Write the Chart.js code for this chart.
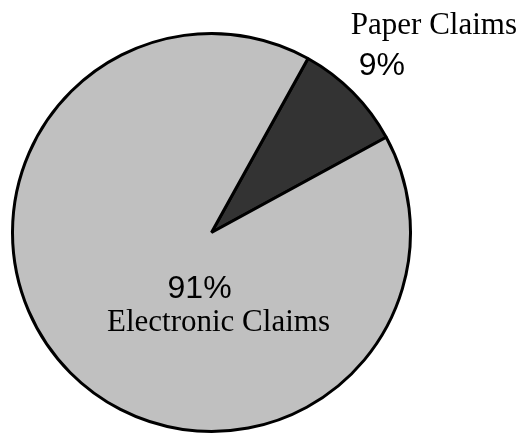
<!DOCTYPE html>
<html>
<head>
<meta charset="utf-8">
<script src="https://cdn.jsdelivr.net/npm/chart.js@4"></script>
<style>
  html, body { margin: 0; padding: 0; background: #fff; }
  #wrap { width: 528px; height: 434px; position: relative; }
</style>
</head>
<body>
<div id="wrap"><canvas id="claimsPie"></canvas></div>
<script>
  // Données du graphique
  var categories = ['Paper Claims', 'Electronic Claims'];
  var shares = [9, 91];
  var sliceColors = ['#333333', '#c0c0c0'];

  // Étiquettes dessinées à côté des parts
  var labelPlugin = {
    id: 'sliceLabels',
    afterDraw: function (chart) {
      var ctx = chart.ctx;
      var arcs = chart.getDatasetMeta(0).data;
      var cx = arcs[0].x, cy = arcs[0].y, r = arcs[0].outerRadius;
      ctx.save();
      ctx.fillStyle = '#000';
      ctx.textBaseline = 'alphabetic';

      // part papier : texte à l'extérieur, en haut à droite
      ctx.textAlign = 'left';
      ctx.font = '31px "Liberation Serif", "Times New Roman", serif';
      ctx.fillText(categories[0], cx + r * 0.70, cy - r * 0.995);
      ctx.font = '32px "Liberation Sans", Arial, sans-serif';
      ctx.fillText(shares[0] + '%', cx + r * 0.74, cy - r * 0.79);

      // part électronique : texte à l'intérieur
      ctx.textAlign = 'center';
      ctx.font = '32px "Liberation Sans", Arial, sans-serif';
      ctx.fillText(shares[1] + '%', cx - r * 0.06, cy + r * 0.33);
      ctx.font = '31px "Liberation Serif", "Times New Roman", serif';
      ctx.fillText(categories[1], cx + r * 0.035, cy + r * 0.495);
      ctx.restore();
    }
  };

  new Chart(document.getElementById('claimsPie'), {
    type: 'pie',
    data: {
      labels: categories,
      datasets: [{
        data: shares,
        backgroundColor: sliceColors,
        borderColor: '#000',
        borderWidth: 3
      }]
    },
    options: {
      responsive: true,
      maintainAspectRatio: false,
      animation: false,
      rotation: 29,
      layout: { padding: { top: 32, left: 11, right: 116, bottom: 1 } },
      plugins: {
        legend: { display: false },
        tooltip: { enabled: false }
      }
    },
    plugins: [labelPlugin]
  });
</script>
</body>
</html>
